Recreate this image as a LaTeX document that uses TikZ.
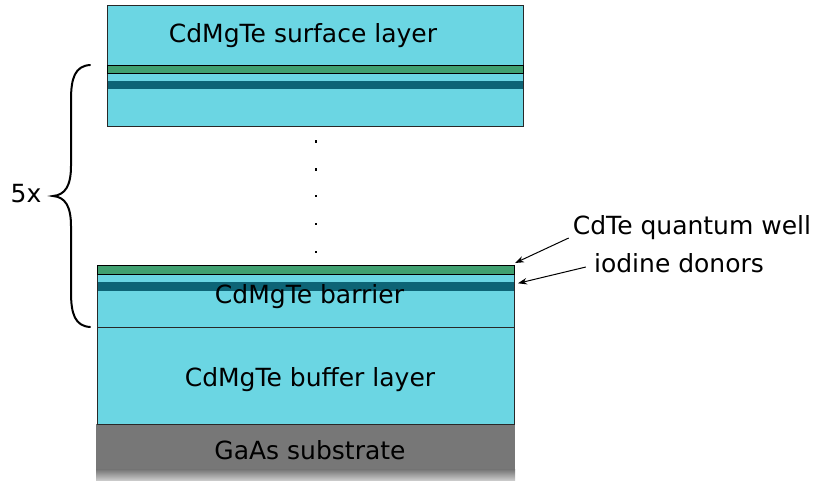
\documentclass[tikz,border=0pt]{standalone}
\usepackage{fontspec}
\setmainfont{DejaVu Sans}
\usetikzlibrary{arrows.meta}
\definecolor{cyanl}{RGB}{107,214,227}
\definecolor{qwgreen}{RGB}{64,160,112}
\definecolor{donor}{RGB}{13,100,118}
\definecolor{subgray}{RGB}{119,119,119}
\definecolor{edge}{RGB}{40,40,40}
\tikzset{
  layer/.style={fill=cyanl,draw=edge,line width=1pt},
  qw/.style={fill=qwgreen,draw=black,line width=1pt},
  dop/.style={fill=donor,draw=none},
  lbl/.style={font=\fontsize{25}{30}\selectfont,inner sep=0pt},
  dotm/.style={fill=black,draw=none,minimum size=2.4pt,inner sep=0pt,rectangle},
  arr/.style={-{Stealth[length=9pt,width=6.5pt]},line width=1pt}
}
\begin{document}
\begin{tikzpicture}[x=1pt,y=-1pt]
\useasboundingbox (0,0) rectangle (815,480);
% top stack
\draw[layer] (107.5,5) rectangle (523,126.5);
\fill[dop] (108,81) rectangle (522.5,89.3);
\draw[qw] (107.5,65) rectangle (523,73.3);
\node[lbl] (surf) at (303,36) {CdMgTe surface layer};
% dots
\foreach \yy [count=\i] in {141.3,169.3,196,224,252}
  \node[dotm] (d\i) at (316,\yy) {};
% bottom stack
\fill[subgray] (96,424) rectangle (515,470);
\shade[top color=subgray,bottom color=subgray!40] (96,469.5) rectangle (515,480);
\draw[layer] (97.3,327.7) rectangle (514,424.3);
\draw[layer] (97.3,265) rectangle (514,327.7);
\fill[dop] (97.8,281.7) rectangle (513.5,290.7);
\draw[qw] (97.3,265) rectangle (514,274.3);
\node[lbl] (barr) at (309.5,297) {CdMgTe barrier};
\node[lbl] (buff) at (310,380) {CdMgTe buffer layer};
\node[lbl] (sub) at (310,450) {GaAs substrate};
% brace
\coordinate (bt) at (90,65);
\coordinate (bb) at (90,327);
\coordinate (btip) at (53,196);
\draw[line width=2pt,line cap=round]
  (bt) .. controls (75,66) and (71,78) .. (71,100) -- (71,166)
  .. controls (71,186) and (65,195) .. (btip)
  .. controls (65,197) and (71,206) .. (71,226) -- (71,292)
  .. controls (71,314) and (75,326) .. (bb);
\node[lbl] (five) at (26,194) {5x};
% labels
\node[lbl] (qwl) at (692,228) {CdTe quantum well};
\node[lbl] (dnl) at (679,263) {iodine donors};
\coordinate (qwp) at (515,263);
\coordinate (dnp) at (518,283.3);
\draw[arr] (qwl.west) ++(-4,10) coordinate (qs) -- (qwp);
\draw[arr] (dnl.west) ++(-8,4) coordinate (ds) -- (dnp);
\end{tikzpicture}
\end{document}
